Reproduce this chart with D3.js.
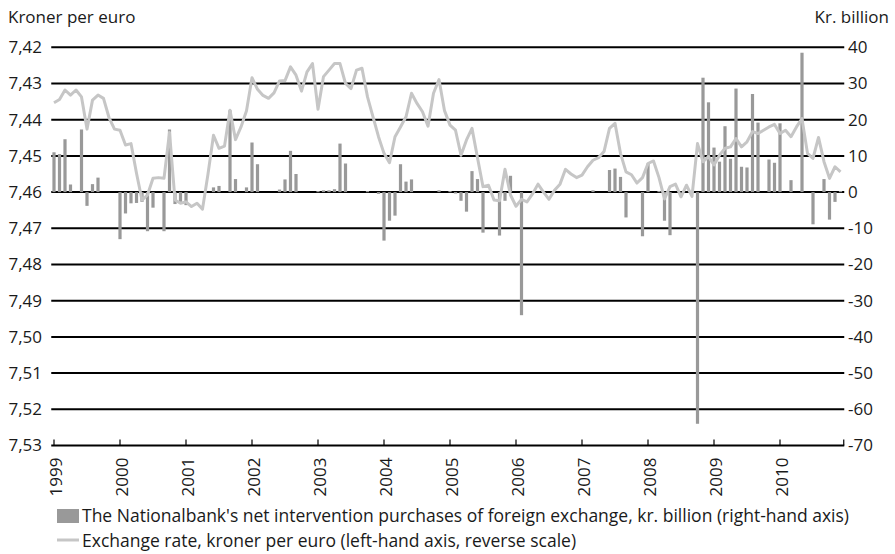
<!DOCTYPE html>
<html>
<head>
<meta charset="utf-8">
<script src="https://cdnjs.cloudflare.com/ajax/libs/d3/7.8.5/d3.min.js"></script>
<style>
    body { margin: 0; background: #fff; }
    text { font-family: "Open Sans", sans-serif; fill: #1a1a1a; }
</style>
</head>
<body>
<svg width="895" height="554"></svg>
<script>

// monthly data, Jan 1999 - Dec 2010
var years = ['1999','2000','2001','2002','2003','2004','2005','2006','2007','2008','2009','2010'];

var months = d3.timeMonths(new Date(1999, 0, 1), new Date(2011, 0, 1));

// net intervention purchases, kr. billion (right-hand axis)
var intervention = [
    11.0, 10.5, 14.6, 2.1, 0, 17.3, -3.8, 2.2, 4.0, 0, 0, 0,
    -13.0, -5.9, -3.1, -3.0, -2.7, -10.8, -4.3, 0, -10.8, 17.3, -3.3, -2.7,
    -3.6, 0, 0, 0, 0, 1.3, 1.7, 0, 22.6, 3.6, 0, 1.3,
    13.7, 7.7, 0, 0, 0, 0.7, 3.5, 11.4, 5.0, 0, 0, 0,
    0.3, 0.5, 0.5, 0.8, 13.4, 7.9, 0, 0, 0, 0.3, 0, -0.5,
    -13.4, -7.9, -6.5, 7.7, 2.9, 3.5, 0, 0, 0, 0, 0.5, 0,
    0.3, -0.4, -2.4, -5.4, 5.8, 3.6, -11.2, 0, 0, -12.0, -2.4, 4.5,
    0, -34.0, 0, 0, 0, 0, 0, 0, 0, 0, 0, 0,
    0, 0, 0.5, 0, 0, 6.1, 6.5, 4.2, -7.0, 0, 0, -12.2,
    7.9, 0, 0.3, -7.9, -11.9, 0, 0, 0, 0, -64.0, 31.6, 24.8,
    12.3, 8.4, 18.2, 9.2, 28.6, 7.0, 6.8, 27.1, 19.2, 0, 9.0, 8.1,
    19.0, 0, 3.3, 0, 38.5, 0, -8.9, 0, 3.6, -7.6, -2.7, 0.3
];

// exchange rate, kroner per euro (left-hand axis, reverse scale)
var exchangeRate = [
    7.4353, 7.4344, 7.4318, 7.4332, 7.4318, 7.4337, 7.4426, 7.4346, 7.4332, 7.4341, 7.4394, 7.4426,
    7.4429, 7.4470, 7.4466, 7.4548, 7.4622, 7.4608, 7.4562, 7.4560, 7.4562, 7.4435, 7.4622, 7.4631,
    7.4627, 7.4640, 7.4631, 7.4647, 7.4550, 7.4443, 7.4479, 7.4473, 7.4374, 7.4455, 7.4420, 7.4375,
    7.4284, 7.4316, 7.4333, 7.4341, 7.4326, 7.4293, 7.4292, 7.4254, 7.4277, 7.4321, 7.4268, 7.4245,
    7.4371, 7.4281, 7.4263, 7.4245, 7.4245, 7.4300, 7.4314, 7.4263, 7.4258, 7.4337, 7.4392, 7.4447,
    7.4493, 7.4519, 7.4447, 7.4420, 7.4392, 7.4327, 7.4355, 7.4378, 7.4418, 7.4327, 7.4289, 7.4375,
    7.4415, 7.4429, 7.4498, 7.4456, 7.4424, 7.4505, 7.4585, 7.4581, 7.4622, 7.4624, 7.4537, 7.4608,
    7.4639, 7.4620, 7.4627, 7.4605, 7.4578, 7.4600, 7.4620, 7.4595, 7.4578, 7.4537, 7.4550, 7.4560,
    7.4553, 7.4530, 7.4512, 7.4505, 7.4488, 7.4424, 7.4410, 7.4493, 7.4544, 7.4552, 7.4575, 7.4560,
    7.4521, 7.4514, 7.4560, 7.4619, 7.4585, 7.4578, 7.4613, 7.4581, 7.4612, 7.4466, 7.4516, 7.4502,
    7.4525, 7.4498, 7.4479, 7.4475, 7.4452, 7.4475, 7.4461, 7.4433, 7.4438, 7.4429, 7.4420, 7.4413,
    7.4438, 7.4429, 7.4447, 7.4420, 7.4397, 7.4493, 7.4507, 7.4449, 7.4516, 7.4562, 7.4530, 7.4544
];

var leftTicks = [7.42, 7.43, 7.44, 7.45, 7.46, 7.47, 7.48, 7.49, 7.50, 7.51, 7.52, 7.53];
var rightTicks = [40, 30, 20, 10, 0, -10, -20, -30, -40, -50, -60, -70];

var barColor = '#999999',
    lineColor = '#c6c6c6';

var data = months.map(function(m, i) {
    return { month: m, intervention: intervention[i], rate: exchangeRate[i] };
});

var svg = d3.select('svg'),
    plotLeft = 51.25,
    plotRight = 843.25,
    plotTop = 47.3,
    plotBottom = 445.5;

var x = d3.scaleBand()
    .domain(months.map(function(d) { return +d; }))
    .range([plotLeft, plotRight]);

var yRight = d3.scaleLinear().domain([-70, 40]).range([plotBottom, plotTop]);
var yLeft = d3.scaleLinear().domain([7.53, 7.42]).range([plotBottom, plotTop]);

function cx(d) { return x(+d.month) + x.bandwidth() / 2; }

var comma = d3.formatLocale({ decimal: ',', thousands: '.', grouping: [3], currency: ['', ''] }).format('.2f');

// GRID LINES
svg.append('g')
    .selectAll('line')
    .data(rightTicks.slice(0, -1))
    .enter()
    .append('line')
    .attr('x1', plotLeft)
    .attr('x2', plotRight + 1)
    .attr('y1', function(d) { return yRight(d); })
    .attr('y2', function(d) { return yRight(d); })
    .style('stroke', '#000')
    .style('stroke-width', 2);

// BARS
svg.append('g')
    .selectAll('rect')
    .data(data.filter(function(d) { return d.intervention != 0; }))
    .enter()
    .append('rect')
    .attr('x', function(d) { return cx(d) - 1.6; })
    .attr('width', 3.2)
    .attr('y', function(d) { return yRight(Math.max(0, d.intervention)); })
    .attr('height', function(d) { return Math.max(1.2, Math.abs(yRight(d.intervention) - yRight(0))); })
    .style('fill', barColor);

// EXCHANGE RATE LINE
var line = d3.line()
    .x(cx)
    .y(function(d) { return yLeft(d.rate); });

svg.append('path')
    .datum(data)
    .attr('d', line)
    .style('fill', 'none')
    .style('stroke', lineColor)
    .style('stroke-width', 3)
    .style('stroke-linejoin', 'round');

// X AXIS
var xAxis = svg.append('g')
    .attr('transform', 'translate(0,' + plotBottom + ')');

xAxis.append('line')
    .attr('x1', plotLeft)
    .attr('x2', plotRight + 1)
    .style('stroke', '#000')
    .style('stroke-width', 2);

var yearMonths = months.filter(function(m) { return m.getMonth() == 0; });

xAxis.selectAll('line.tick')
    .data(yearMonths.concat([null]))
    .enter()
    .append('line')
    .attr('class', 'tick')
    .attr('x1', function(d) { return d ? x(+d) + x.bandwidth() / 2 : plotRight + 0.5; })
    .attr('x2', function(d) { return d ? x(+d) + x.bandwidth() / 2 : plotRight + 0.5; })
    .attr('y1', 0)
    .attr('y2', -6)
    .style('stroke', '#000')
    .style('stroke-width', 1.2);

xAxis.selectAll('text')
    .data(yearMonths)
    .enter()
    .append('text')
    .text(function(d, i) { return years[i]; })
    .attr('transform', function(d) { return 'translate(' + (x(+d) + x.bandwidth() / 2 + 2) + ',12) rotate(-90)'; })
    .attr('dy', '0.36em')
    .style('text-anchor', 'end')
    .style('font-size', '17px');

// LEFT AND RIGHT TICK LABELS
svg.append('g')
    .selectAll('text')
    .data(leftTicks)
    .enter()
    .append('text')
    .text(function(d) { return comma(d); })
    .attr('x', 42)
    .attr('y', function(d) { return yLeft(d); })
    .attr('dy', '0.35em')
    .style('text-anchor', 'end')
    .style('font-size', '17px');

svg.append('g')
    .selectAll('text')
    .data(rightTicks)
    .enter()
    .append('text')
    .text(function(d) { return d; })
    .attr('x', 848)
    .attr('y', function(d) { return yRight(d); })
    .attr('dy', '0.35em')
    .style('font-size', '17px');

// AXIS TITLES
svg.append('text')
    .text('Kroner per euro')
    .attr('x', 8)
    .attr('y', 23)
    .style('font-size', '17px');

svg.append('text')
    .text('Kr. billion')
    .attr('x', 889)
    .attr('y', 23)
    .style('text-anchor', 'end')
    .style('font-size', '17px');

// LEGEND
var legend = svg.append('g');

legend.append('rect')
    .attr('x', 57)
    .attr('y', 509)
    .attr('width', 22)
    .attr('height', 14)
    .style('fill', barColor);

legend.append('text')
    .text("The Nationalbank's net intervention purchases of foreign exchange, kr. billion (right-hand axis)")
    .attr('x', 82)
    .attr('y', 516)
    .attr('dy', '0.35em')
    .style('font-size', '17.5px');

legend.append('line')
    .attr('x1', 57)
    .attr('x2', 79)
    .attr('y1', 540)
    .attr('y2', 540)
    .style('stroke', lineColor)
    .style('stroke-width', 3);

legend.append('text')
    .text('Exchange rate, kroner per euro (left-hand axis, reverse scale)')
    .attr('x', 82)
    .attr('y', 541)
    .attr('dy', '0.35em')
    .style('font-size', '17.5px');

</script>
</body>
</html>
